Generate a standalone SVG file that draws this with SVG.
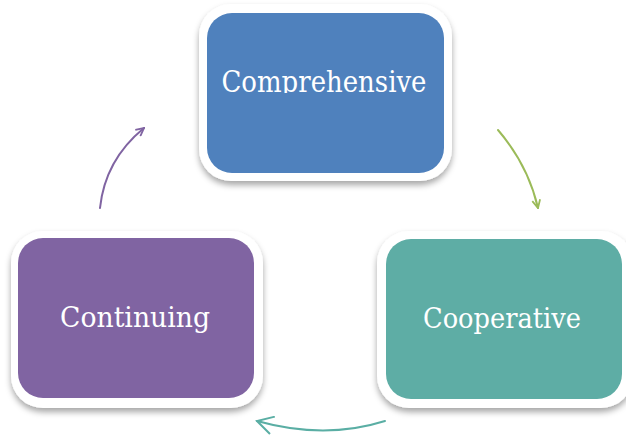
<svg xmlns="http://www.w3.org/2000/svg" width="626" height="439" viewBox="0 0 626 439">
  <defs>
    <filter id="sh" x="-10%" y="-10%" width="120%" height="125%">
      <feDropShadow dx="0" dy="4" stdDeviation="3" flood-color="#000" flood-opacity="0.35"/>
    </filter>
    <clipPath id="clipTop"><rect x="200" y="40" width="250" height="53"/></clipPath>
    <marker id="ah-green" viewBox="0 0 10 10" refX="9" refY="5" markerWidth="10" markerHeight="10" markerUnits="userSpaceOnUse" orient="auto">
      <path d="M1,1 L9,5 L1,9" fill="none" stroke="#9bbb59" stroke-width="1.8"/>
    </marker>
    <marker id="ah-purple" viewBox="0 0 10 10" refX="9" refY="5" markerWidth="10" markerHeight="10" markerUnits="userSpaceOnUse" orient="auto">
      <path d="M1,1 L9,5 L1,9" fill="none" stroke="#8064a2" stroke-width="1.8"/>
    </marker>
    <marker id="ah-teal" viewBox="0 0 20 20" refX="18" refY="10" markerWidth="20" markerHeight="20" markerUnits="userSpaceOnUse" orient="auto">
      <path d="M2,1 L18,10 L2,19" fill="none" stroke="#5aaea4" stroke-width="2"/>
    </marker>
  </defs>
  <style>
    .outer { fill: #ffffff; filter: url(#sh); }
    .lbl { font-family: "DejaVu Serif", "Liberation Serif", serif; fill: #ffffff; text-anchor: middle; }
    .conn { fill: none; stroke-width: 2; stroke-linecap: round; }
  </style>
  <rect width="626" height="439" fill="#ffffff"/>

  <g id="node-comprehensive">
    <rect class="outer" x="199" y="4" width="253" height="177" rx="32"/>
    <rect x="207" y="13" width="237" height="160" rx="25" fill="#4f81bd"/>
    <text class="lbl" x="324" y="92" font-size="29" textLength="205" lengthAdjust="spacingAndGlyphs" clip-path="url(#clipTop)">Comprehensive</text>
  </g>

  <g id="node-cooperative">
    <rect class="outer" x="377" y="231" width="256" height="177" rx="32"/>
    <rect x="386" y="239" width="236" height="160" rx="25" fill="#5eada5"/>
    <text class="lbl" x="502" y="328" font-size="27" textLength="158" lengthAdjust="spacingAndGlyphs">Cooperative</text>
  </g>

  <g id="node-continuing">
    <rect class="outer" x="11" y="231" width="252" height="177" rx="32"/>
    <rect x="18" y="238" width="236" height="160" rx="25" fill="#8064a2"/>
    <text class="lbl" x="135" y="327" font-size="27" textLength="150" lengthAdjust="spacingAndGlyphs">Continuing</text>
  </g>

  <g id="connectors">
    <path class="conn" d="M498,130 Q528,165 538,208" stroke="#9bbb59" marker-end="url(#ah-green)"/>
    <path class="conn" d="M385,421 Q325,440 257,421" stroke="#5aaea4" marker-end="url(#ah-teal)"/>
    <path class="conn" d="M100,208 Q105,160 144,128" stroke="#8064a2" marker-end="url(#ah-purple)"/>
  </g>
</svg>
